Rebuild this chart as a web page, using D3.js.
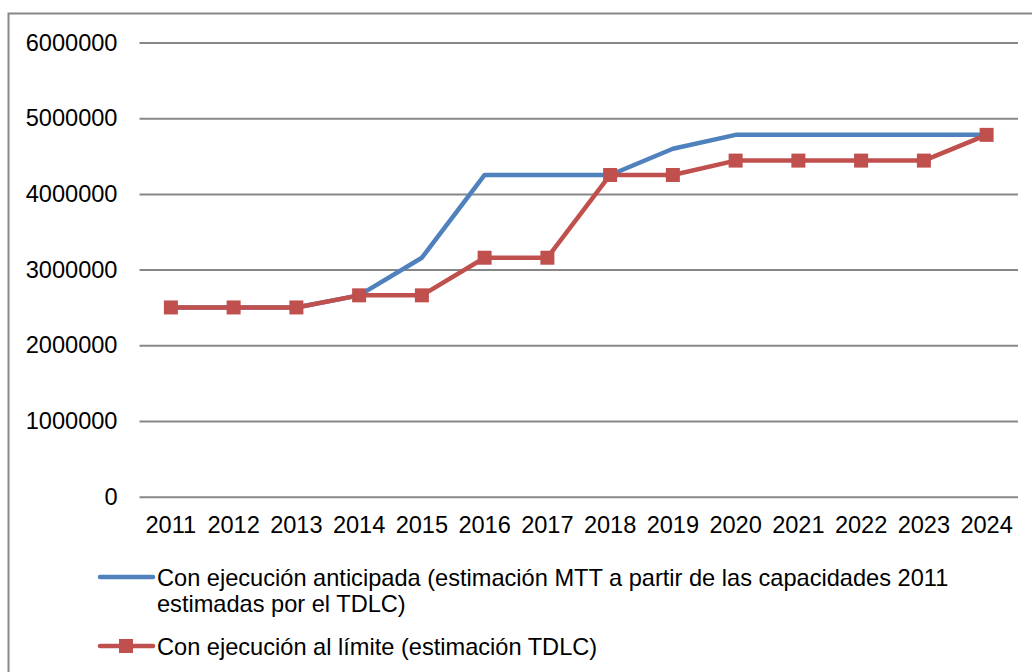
<!DOCTYPE html>
<html>
<head>
<meta charset="utf-8">
<script src="https://cdn.jsdelivr.net/npm/d3@7"></script>
<style>
  html, body { margin: 0; padding: 0; background: #fff; }
  svg { display: block; font-family: "Liberation Sans", Arial, sans-serif; }
</style>
</head>
<body>
<svg id="chart" width="1032" height="672"></svg>
<script>
const years = ["2011","2012","2013","2014","2015","2016","2017","2018","2019","2020","2021","2022","2023","2024"];
const anticipada = [2500000, 2500000, 2500000, 2660000, 3157000, 4250000, 4250000, 4250000, 4597000, 4780000, 4780000, 4780000, 4780000, 4780000];
const limite = [2500000, 2500000, 2500000, 2660000, 2660000, 3157000, 3157000, 4250000, 4250000, 4440000, 4440000, 4440000, 4440000, 4780000];
const yTicks = [0, 1000000, 2000000, 3000000, 4000000, 5000000, 6000000];
const seriesNames = [
  ["Con ejecución anticipada (estimación MTT a partir de las capacidades 2011", "estimadas por el TDLC)"],
  ["Con ejecución al límite (estimación TDLC)"]
];
const colors = ["#4F81BD", "#C0504D"];

const svg = d3.select("#chart");
const fontSize = 23.6;
const fontFam = "Liberation Sans, Arial, sans-serif";

// outer border
svg.append("rect").attr("x", 8.5).attr("y", 13.5).attr("width", 1100).attr("height", 800)
  .attr("fill", "none").attr("stroke", "#888").attr("stroke-width", 2);

const plot = {left: 139.5, right: 1018, top: 42.5, bottom: 496.7};

const x = d3.scaleBand().domain(years).range([plot.left, plot.right]);
const y = d3.scaleLinear().domain([0, 6000000]).range([plot.bottom, plot.top]);

// gridlines
const yAxis = d3.axisLeft(y).tickValues(yTicks).tickSize(-(plot.right - plot.left)).tickPadding(22).tickFormat(d3.format("d"));
const gy = svg.append("g").attr("transform", `translate(${plot.left},0)`).call(yAxis);
gy.select(".domain").remove();
gy.selectAll(".tick line").attr("stroke", "#878787").attr("stroke-width", 2);
gy.selectAll(".tick text").attr("font-size", fontSize).attr("fill", "#000").attr("font-family", fontFam);

// x axis labels
const xAxis = d3.axisBottom(x).tickSize(0).tickPadding(20);
const gx = svg.append("g").attr("transform", `translate(0,${plot.bottom})`).call(xAxis);
gx.select(".domain").remove();
gx.selectAll(".tick text").attr("font-size", fontSize).attr("fill", "#000").attr("font-family", fontFam);

const cx = d => x(d) + x.bandwidth() / 2;
const line = d3.line().x((d, i) => cx(years[i])).y(d => y(d));

svg.append("path").datum(anticipada).attr("d", line)
  .attr("fill", "none").attr("stroke", colors[0]).attr("stroke-width", 4.5).attr("stroke-linejoin", "round");

svg.append("path").datum(limite).attr("d", line)
  .attr("fill", "none").attr("stroke", colors[1]).attr("stroke-width", 4.5).attr("stroke-linejoin", "round");

const ms = 14;
svg.append("g").selectAll("rect").data(limite).join("rect")
  .attr("x", (d, i) => cx(years[i]) - ms / 2)
  .attr("y", d => y(d) - ms / 2)
  .attr("width", ms).attr("height", ms)
  .attr("fill", colors[1]);

// legend
const leg = svg.append("g").attr("font-family", fontFam);
leg.append("line").attr("x1", 100).attr("x2", 153).attr("y1", 577).attr("y2", 577)
  .attr("stroke", colors[0]).attr("stroke-width", 4.5).attr("stroke-linecap", "round");
seriesNames[0].forEach((t, i) => {
  leg.append("text").attr("x", 157).attr("y", 586 + i * 26).attr("font-size", fontSize).attr("fill", "#000").text(t);
});
leg.append("line").attr("x1", 100).attr("x2", 153).attr("y1", 646).attr("y2", 646)
  .attr("stroke", colors[1]).attr("stroke-width", 4.5).attr("stroke-linecap", "round");
leg.append("rect").attr("x", 126 - ms / 2).attr("y", 646 - ms / 2).attr("width", ms).attr("height", ms).attr("fill", colors[1]);
leg.append("text").attr("x", 157).attr("y", 655).attr("font-size", fontSize).attr("fill", "#000").text(seriesNames[1][0]);
</script>
</body>
</html>
